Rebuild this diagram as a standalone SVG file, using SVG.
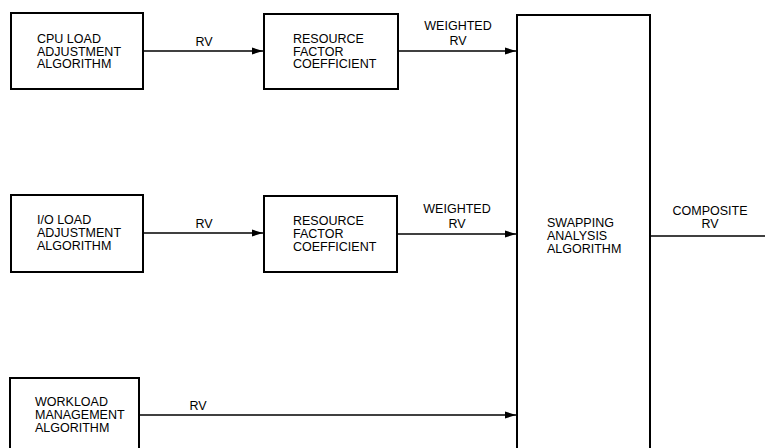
<svg xmlns="http://www.w3.org/2000/svg" width="765" height="448" viewBox="0 0 765 448">
<style>
.box{fill:#fff;stroke:#000;stroke-width:2}
.lbl{font-family:"Liberation Sans",Arial,sans-serif;font-size:12.5px;fill:#000}
.mid{text-anchor:middle}
.ln{stroke:#000;stroke-width:1.6;fill:none}
</style>
<defs>
<marker id="ah" markerUnits="userSpaceOnUse" markerWidth="12" markerHeight="8" refX="11" refY="4" orient="auto">
<path d="M0,0.5 L11,4 L0,7.5 Z" fill="#000"/>
</marker>
</defs>
<rect width="765" height="448" fill="#fff"/>
<g id="connectors">
<line class="ln" x1="143" y1="51" x2="263" y2="51" marker-end="url(#ah)"/>
<text class="lbl mid" x="204" y="46">RV</text>
<line class="ln" x1="398" y1="51" x2="516" y2="51" marker-end="url(#ah)"/>
<text class="lbl mid" x="458" y="29.5">WEIGHTED</text>
<text class="lbl mid" x="458" y="44.5">RV</text>
<line class="ln" x1="143" y1="233" x2="263" y2="233" marker-end="url(#ah)"/>
<text class="lbl mid" x="204" y="227.5">RV</text>
<line class="ln" x1="397" y1="234" x2="516" y2="234" marker-end="url(#ah)"/>
<text class="lbl mid" x="457" y="212.5">WEIGHTED</text>
<text class="lbl mid" x="457" y="227.5">RV</text>
<line class="ln" x1="139" y1="415" x2="516" y2="415" marker-end="url(#ah)"/>
<text class="lbl mid" x="198" y="409.5">RV</text>
<line class="ln" x1="650" y1="236" x2="765" y2="236"/>
<text class="lbl mid" x="710" y="214.5">COMPOSITE</text>
<text class="lbl mid" x="710" y="227.5">RV</text>
</g>
<g id="cpu">
<rect class="box" x="11" y="13" width="132" height="76"/>
<text class="lbl" x="37" y="42.5">CPU LOAD</text>
<text class="lbl" x="37" y="55.5">ADJUSTMENT</text>
<text class="lbl" x="37" y="68">ALGORITHM</text>
</g>
<g id="rfc1">
<rect class="box" x="264" y="14" width="134" height="75"/>
<text class="lbl" x="293" y="42.5">RESOURCE</text>
<text class="lbl" x="293" y="55.5">FACTOR</text>
<text class="lbl" x="293" y="68">COEFFICIENT</text>
</g>
<g id="io">
<rect class="box" x="11" y="195" width="132" height="77"/>
<text class="lbl" x="37" y="223.5">I/O LOAD</text>
<text class="lbl" x="37" y="236.5">ADJUSTMENT</text>
<text class="lbl" x="37" y="249.5">ALGORITHM</text>
</g>
<g id="rfc2">
<rect class="box" x="264" y="196" width="133" height="76"/>
<text class="lbl" x="293" y="224.5">RESOURCE</text>
<text class="lbl" x="293" y="237.5">FACTOR</text>
<text class="lbl" x="293" y="250.5">COEFFICIENT</text>
</g>
<g id="workload">
<rect class="box" x="10" y="378" width="129" height="90"/>
<text class="lbl" x="35" y="406">WORKLOAD</text>
<text class="lbl" x="35" y="419">MANAGEMENT</text>
<text class="lbl" x="35" y="432">ALGORITHM</text>
</g>
<g id="swapping">
<rect class="box" x="517" y="15" width="133" height="450"/>
<text class="lbl" x="547" y="226.5">SWAPPING</text>
<text class="lbl" x="547" y="239.5">ANALYSIS</text>
<text class="lbl" x="547" y="252.5">ALGORITHM</text>
</g>
</svg>
